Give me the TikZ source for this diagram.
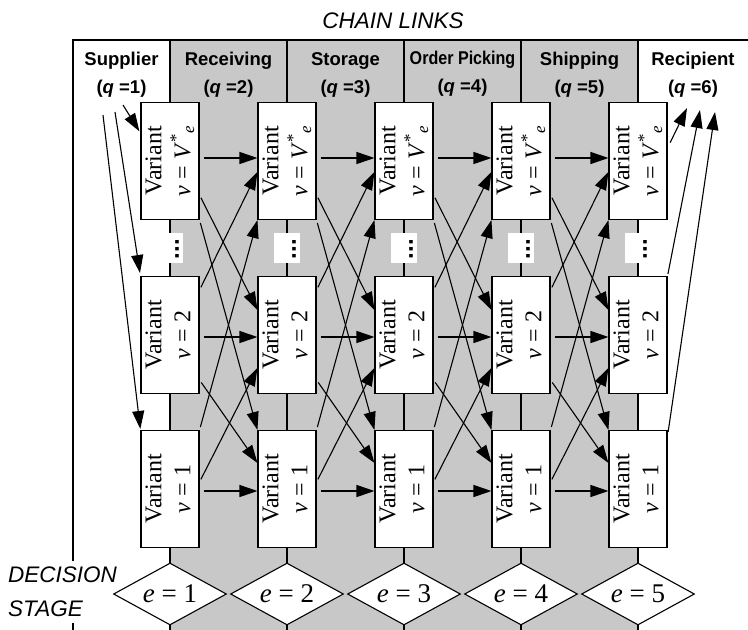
\documentclass[tikz,border=0pt]{standalone}
\usepackage{graphicx}
\usepackage{fontspec}
\setmainfont{Liberation Serif}
\newfontfamily\hdfont{Liberation Sans}
\usetikzlibrary{arrows.meta, shapes.geometric}
\definecolor{lanegrey}{RGB}{200,200,200}

% rotated two-line label of a variant box
\newcommand\variantlabel[1]{\rotatebox{90}{\begin{tabular}{@{}c@{}}Variant\\#1\end{tabular}}}

\begin{document}
\begin{tikzpicture}[
  x=1pt, y=-1pt,
  var/.style={rectangle, draw, fill=white, line width=1.1pt,
              minimum width=56pt, minimum height=117pt, inner sep=0pt,
              font=\fontsize{24}{29}\selectfont},
  stage/.style={diamond, draw, fill=white, line width=1.1pt, aspect=1.8,
                minimum width=113pt, minimum height=62pt, inner sep=0pt,
                font=\fontsize{27}{30}\selectfont},
  hd/.style={anchor=north, inner sep=0pt, align=center,
             font=\hdfont\bfseries\fontsize{18.5}{28}\selectfont},
  gapbox/.style={fill=white, minimum width=26pt, minimum height=30pt, inner sep=0pt},
  arr/.style={-{Triangle[length=18pt,width=12pt]}, line width=1.1pt},
]
  \useasboundingbox (0,0) rectangle (748,630);

  % grey lanes and frame
  \fill[lanegrey] (170,40) rectangle (638,630);
  \draw[line width=1.1pt] (73,630) |- (748,40);
  \foreach \x in {170,287,404,521,638}
    \draw[line width=1.1pt] (\x,40) -- (\x,630);

  % headings
  \node[font=\hdfont\itshape\fontsize{22.5}{27}\selectfont, anchor=base]
    (title) at (393,28) {CHAIN LINKS};
  \node[hd] (h1) at (121.5,52) {Supplier\\(\textit{q} =1)};
  \node[hd] (h2) at (228.5,52) {Receiving\\(\textit{q} =2)};
  \node[hd] (h3) at (345.5,52) {Storage\\(\textit{q} =3)};
  \node[hd] (h4) at (462.5,51) {\scalebox{0.87}[1]{Order Picking}\\(\textit{q} =4)};
  \node[hd] (h5) at (579.5,52) {Shipping\\(\textit{q} =5)};
  \node[hd] (h6) at (693,52) {Recipient\\(\textit{q} =6)};

  \node[anchor=north west, fill=white, align=left, inner sep=6pt,
        font=\hdfont\itshape\fontsize{22.5}{34}\selectfont]
    (dstage) at (2,561) {DECISION\\STAGE};

  % variant boxes and decision stages
  \foreach \k/\x in {1/170,2/287,3/404,4/521,5/638} {
    \node[var] (t\k) at (\x,161)
      {\variantlabel{\textit{v} = \textit{V}\textsuperscript{*}\textsubscript{\textit{e}}}};
    \node[gapbox] (g\k) at (\x,248) {};
    \node[rotate=90, inner sep=0pt, font=\hdfont\bfseries\fontsize{24}{24}\selectfont]
      (d\k) at (\x+7,249) {...};
    \node[var] (m\k) at (\x,335) {\variantlabel{\textit{v} = 2}};
    \node[var] (b\k) at (\x,489) {\variantlabel{\textit{v} = 1}};
    \node[stage] (e\k) at (\x,594) {\textit{e} = \k};
  }

  % links between neighbouring stages
  \foreach \k/\n in {1/2,2/3,3/4,4/5} {
    \draw[arr, shorten <=4pt] ([yshift=3pt]t\k.east) -- ([yshift=3pt]t\n.west);
    \draw[arr, shorten <=4pt] ([yshift=-2pt]m\k.east) -- ([yshift=-2pt]m\n.west);
    \draw[arr, shorten <=4pt] ([yshift=-2pt]b\k.east) -- ([yshift=-2pt]b\n.west);
    \draw[arr, shorten <=3pt] ([yshift=-34pt]t\k.east) -- ([yshift=25pt]m\n.west);
    \draw[arr, shorten <=3pt] (t\k.south east) -- (b\n.north west);
    \draw[arr, shorten <=3pt] ([yshift=45pt]m\k.east) -- ([yshift=-11pt]t\n.west);
    \draw[arr, shorten <=3pt] ([yshift=-45pt]m\k.east) -- ([yshift=26pt]b\n.west);
    \draw[arr, shorten <=3pt] ([yshift=7pt]b\k.east) -- ([yshift=-33pt]m\n.west);
    \draw[arr, shorten <=3pt] (b\k.north east) -- (t\n.south west);
  }

  % supplier feeds the first stage
  \coordinate (s1) at (123,105);
  \coordinate (s2) at (115,112);
  \coordinate (s3) at (103,115);
  \draw[arr, shorten >=2pt] (s1) -- ([yshift=28pt]t1.west);
  \draw[arr, shorten >=3pt] (s2) -- (m1.north west);
  \draw[arr, shorten >=1pt] (s3) -- (b1.north west);

  % last stage delivers to the recipient
  \coordinate (r1) at (687,108);
  \coordinate (r2) at (700,110);
  \coordinate (r3) at (715,112);
  \draw[arr, shorten <=6pt] ([yshift=13pt]t5.east) -- (r1);
  \draw[arr, shorten <=2pt] (m5.north east) -- (r2);
  \draw[arr, shorten <=4pt] ([yshift=-6pt]b5.north east) -- (r3);
\end{tikzpicture}
\end{document}
